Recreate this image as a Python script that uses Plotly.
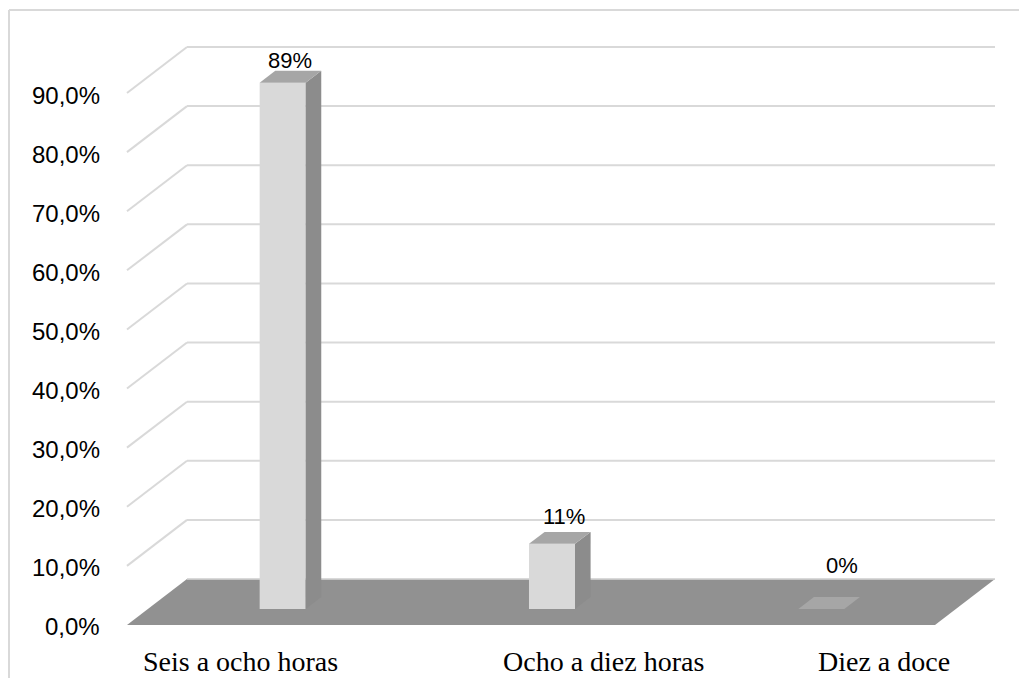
import plotly.graph_objects as go

# data
categories = ["Seis a ocho horas", "Ocho a diez horas", "Diez a doce"]
values = [89, 11, 0]
value_labels = ["89%", "11%", "0%"]
tick_values = [0, 10, 20, 30, 40, 50, 60, 70, 80, 90]
tick_labels = ["0,0%", "10,0%", "20,0%", "30,0%", "40,0%", "50,0%",
               "60,0%", "70,0%", "80,0%", "90,0%"]

# fake-3d geometry (in axis units)
DX = 0.2228        # depth shift along x for full depth
DY = 7.78          # depth shift along y (percent units) for full depth
BAR_HW = 0.0854    # half width of a bar
F0, F1 = 0.35, 0.61  # bar front / back depth

GRID = "#d9d9d9"
FLOOR = "#919191"
BAR_FRONT = "#d9d9d9"
BAR_TOP = "#a6a6a6"
BAR_SIDE = "#8c8c8c"

cat_label_x = [0.42, 1.77, 2.81]   # where Excel put the category texts
label_lift = [5, 10, 26]            # px nudges for the value labels
label_nudge = [0, 4, 13]

# page body has an 8px margin, so the figure is 16px smaller than the window
W, H = 1011, 670


def proj(c, v, f):
    return c + f * DX, v + f * DY


def poly(points, color):
    xs, ys = zip(*[proj(*p) for p in points])
    return go.Scatter(x=list(xs) + [xs[0]], y=list(ys) + [ys[0]], mode="lines",
                      fill="toself", fillcolor=color, line=dict(width=0),
                      hoverinfo="skip", showlegend=False)


def line(points, color, width=2):
    xs, ys = zip(*[proj(*p) for p in points])
    return go.Scatter(x=xs, y=ys, mode="lines", line=dict(color=color, width=width),
                      hoverinfo="skip", showlegend=False)


n = len(categories)
fig = go.Figure()

# back wall + side wall gridlines
for v in tick_values:
    if v > 0:
        fig.add_trace(line([(0, v, 0), (0, v, 1)], GRID))
    fig.add_trace(line([(0, v, 1), (n, v, 1)], GRID))

# floor
fig.add_trace(poly([(0, 0, 0), (n, 0, 0), (n, 0, 1), (0, 0, 1)], FLOOR))
fig.add_trace(line([(0, 0, 1), (n, 0, 1)], GRID, 1.5))

# bars
for i, v in enumerate(values):
    c = i + 0.5
    l, r = c - BAR_HW, c + BAR_HW
    if v > 0:
        fig.add_trace(poly([(l, 0, F0), (r, 0, F0), (r, v, F0), (l, v, F0)], BAR_FRONT))
        fig.add_trace(poly([(r, 0, F0), (r, 0, F1), (r, v, F1), (r, v, F0)], BAR_SIDE))
    fig.add_trace(poly([(l, v, F0), (r, v, F0), (r, v, F1), (l, v, F1)], BAR_TOP))

    lx, ly = proj(c, v, (F0 + F1) / 2)
    fig.add_annotation(x=lx, y=proj(c, v, F1)[1], text=value_labels[i], showarrow=False,
                       xanchor="center", yanchor="middle", yshift=label_lift[i] + 5,
                       xshift=label_nudge[i],
                       font=dict(family="Liberation Sans, Arial, sans-serif", size=22,
                                 color="#000000"))

# y tick labels on the front plane
for v, t in zip(tick_values, tick_labels):
    fig.add_annotation(x=0, y=v, text=t, showarrow=False, xanchor="right",
                       yanchor="middle", xshift=-25, yshift=-2,
                       font=dict(family="Liberation Sans, Arial, sans-serif", size=24,
                                 color="#000000"))

# category labels
for x, t in zip(cat_label_x, categories):
    fig.add_annotation(x=x, y=-6.26, text=t, showarrow=False, xanchor="center",
                       yanchor="middle",
                       font=dict(family="Liberation Serif, Times New Roman, serif",
                                 size=28, color="#000000"))

# chart frame: only its top and left edges fall inside the picture
fig.add_shape(type="line", xref="paper", yref="paper",
              x0=1 / W, x1=1, y0=1 - 2 / H, y1=1 - 2 / H,
              line=dict(color=GRID, width=2))
fig.add_shape(type="line", xref="paper", yref="paper",
              x0=1 / W, x1=1 / W, y0=0, y1=1 - 2 / H,
              line=dict(color=GRID, width=2))

fig.update_layout(
    width=W, height=H,
    margin=dict(l=0, r=0, t=0, b=0),
    paper_bgcolor="white", plot_bgcolor="white",
    showlegend=False,
    xaxis=dict(range=[-0.4418, 3.3119], visible=False, fixedrange=True),
    yaxis=dict(range=[-8.97, 104.38], visible=False, fixedrange=True),
)

fig.write_html("out.html")
